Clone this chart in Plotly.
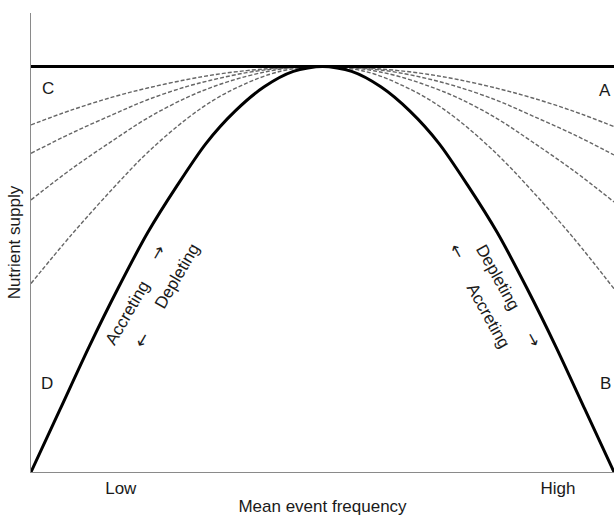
import plotly.graph_objects as go

# ---- data (x: 0 = low frequency, 100 = high; y: nutrient supply, 100 = maximum) ----
ceiling_x = [0, 100]
ceiling_y = [100, 100]

solid_x = [0, 5, 10, 15, 20, 25, 30, 35, 40, 45, 50, 55, 60, 65, 70, 75, 80, 85, 90, 95, 100]
solid_y = [0, 15.5, 31, 45.5, 59, 70.5, 81, 89, 95, 98.8, 100, 98.8, 95, 89, 81, 70.5, 59, 45.5, 31, 15.5, 0]

dash_x = [0, 7, 14.1, 20, 26.8, 32, 37, 41, 44.4, 50, 55.6, 59, 63, 68, 73.2, 80, 85.9, 93, 100]
dash1_y = [85.6, 89.3, 92.5, 94.7, 96.8, 98.1, 99.0, 99.5, 99.8, 100, 99.8, 99.5, 99.0, 98.1, 96.8, 94.6, 92.3, 89.0, 85.2]
dash2_y = [78.6, 83.6, 88.2, 91.8, 95.1, 97.0, 98.5, 99.3, 99.7, 100, 99.7, 99.3, 98.5, 97.0, 95.0, 91.6, 87.9, 83.3, 78.2]
dash3_y = [67.1, 74.8, 81.8, 87.3, 92.4, 95.4, 97.6, 98.9, 99.6, 100, 99.6, 98.9, 97.6, 95.3, 92.3, 87.1, 81.5, 74.4, 66.6]
dash4_y = [46.5, 58.6, 70.0, 78.8, 87.2, 92.3, 95.9, 98.1, 99.3, 100, 99.3, 98.1, 95.8, 92.1, 86.9, 78.3, 69.4, 57.8, 45.2]
dash_series = [dash1_y, dash2_y, dash3_y, dash4_y]

tick_vals = [15.4, 90.4]
tick_text = ["Low", "High"]

corner_labels = ["C", "A", "D", "B"]
corner_x = [2.9, 98.5, 2.8, 98.5]
corner_y = [94.7, 94.2, 21.8, 21.8]

# rotated words along the curve flanks
word_text = ["Accreting", "Depleting", "Depleting", "Accreting"]
word_x = [16.6, 25.0, 80.1, 78.4]
word_y = [39.3, 48.3, 48.0, 38.6]
word_angle = [-60, -60, 61, 61]

arrow_text = ["\u2192", "\u2190", "\u2190", "\u2192"]
arrow_x = [21.6, 19.0, 73.1, 86.1]
arrow_y = [54.1, 32.5, 54.4, 32.7]
arrow_angle = [-60, -60, 61, 61]

FONT = "Liberation Sans, Arial, Helvetica, sans-serif"
TXT = "#1a1a1a"
FS = 17

fig = go.Figure()

for dy in dash_series:
    fig.add_trace(go.Scatter(x=dash_x, y=dy, mode="lines",
                             line=dict(color="#666666", width=1.4, dash="4px,2px",
                                       shape="spline", smoothing=1.0),
                             hoverinfo="skip", showlegend=False))

fig.add_trace(go.Scatter(x=ceiling_x, y=ceiling_y, mode="lines",
                         line=dict(color="black", width=3),
                         hoverinfo="skip", showlegend=False))
fig.add_trace(go.Scatter(x=solid_x, y=solid_y, mode="lines",
                         line=dict(color="black", width=3, shape="spline", smoothing=0.8),
                         hoverinfo="skip", showlegend=False))

annotations = []
for t, x, y in zip(corner_labels, corner_x, corner_y):
    annotations.append(dict(x=x, y=y, xref="x", yref="y", text=t, showarrow=False,
                            font=dict(family=FONT, size=FS, color=TXT)))
for t, x, y, a in zip(word_text, word_x, word_y, word_angle):
    annotations.append(dict(x=x, y=y, xref="x", yref="y", text=t, showarrow=False,
                            textangle=a, font=dict(family=FONT, size=FS, color=TXT)))
for t, x, y, a in zip(arrow_text, arrow_x, arrow_y, arrow_angle):
    annotations.append(dict(x=x, y=y, xref="x", yref="y", text=t, showarrow=False,
                            textangle=a, font=dict(family="DejaVu Sans", size=17, color=TXT)))

fig.update_layout(
    width=614, height=516,
    margin=dict(l=31, r=0, t=13, b=44),
    paper_bgcolor="white", plot_bgcolor="white",
    annotations=annotations,
    showlegend=False,
    xaxis=dict(range=[0, 100], showgrid=False, zeroline=False,
               showline=True, linecolor="#8a8a8a", linewidth=1.2,
               tickvals=tick_vals, ticktext=tick_text, ticks="",
               tickfont=dict(family=FONT, size=FS, color=TXT),
               title=dict(text="Mean event frequency", standoff=5,
                          font=dict(family=FONT, size=FS, color=TXT)),
               automargin=False, fixedrange=True),
    yaxis=dict(range=[0, 113.2], showgrid=False, zeroline=False,
               showline=True, linecolor="#8a8a8a", linewidth=1.2,
               showticklabels=False, ticks="",
               title=dict(text="Nutrient supply", standoff=4,
                          font=dict(family=FONT, size=FS, color=TXT)),
               automargin=False, fixedrange=True),
)

# remove the default page margin so the 614x516 figure fills the window exactly
fig.write_html("out.html", config={"displayModeBar": False},
               post_script="document.body.style.margin='0';document.body.style.overflow='hidden';")
